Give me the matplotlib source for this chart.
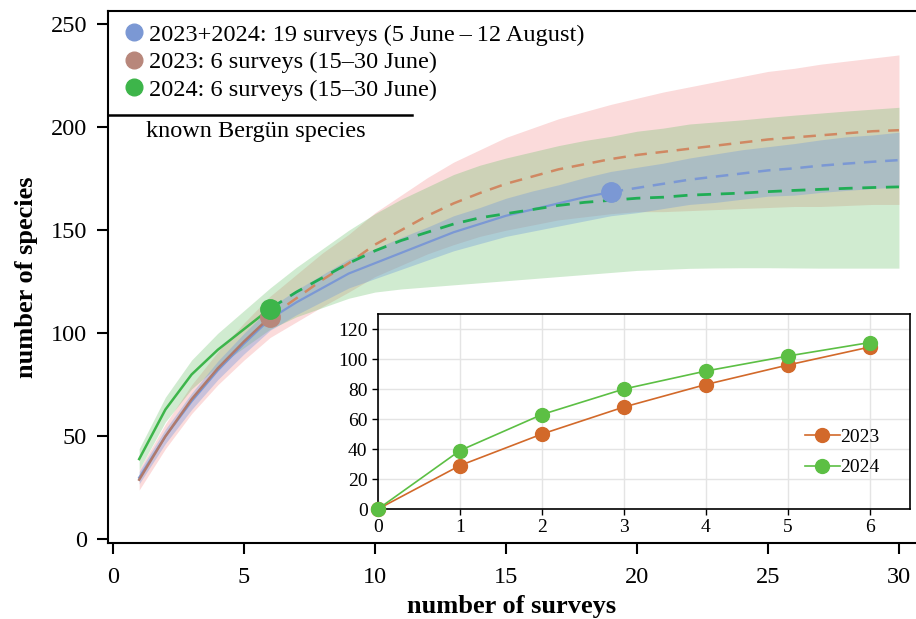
import matplotlib
matplotlib.use('Agg')
import matplotlib.pyplot as plt
from matplotlib.lines import Line2D

plt.rcParams['font.family'] = ['Liberation Serif', 'DejaVu Serif']

# number of surveys (rarefaction / extrapolation grid)
steps = list(range(1, 31))

# estimated species richness per number of surveys
both_est = [30, 50, 67, 82, 95, 107, 115, 122, 129, 134, 139, 144, 149, 153, 157,
            160, 163, 166, 168.5, 170.5, 172.5, 174.5, 176, 177.5, 179, 180, 181.3,
            182.3, 183.2, 184]
y2023_est = [29, 50, 68, 83, 96, 108, 117, 126, 134, 143, 150, 157, 163, 168, 172.5,
             176, 179.5, 182, 184.5, 186.5, 188, 189.5, 191, 192.5, 194, 195, 196,
             197, 198, 198.5]
y2024_est = [39, 63, 80, 92, 102, 112, 120, 127, 134, 140, 145, 149, 153, 156, 158,
             160, 162, 163.5, 164.5, 165.5, 166, 167, 167.5, 168, 168.7, 169.3, 169.8,
             170.3, 170.7, 171]

# distance of the 95% confidence limits below / above the estimate
both_lo = [3, 3.5, 4, 4.5, 5, 5.5, 6, 6.5, 7, 7.5, 8, 8.5, 9, 9.5, 10, 10.5, 11,
           11.5, 11.5, 12, 12, 12, 12.5, 12.5, 12.5, 13, 13, 13, 13, 13]
both_hi = [3, 3.5, 4, 4.5, 5, 5.5, 6, 6.5, 7, 7, 7.5, 7.5, 8, 8, 8.5, 9, 9, 9.5, 10,
           10, 10, 10.5, 11, 11.5, 11.5, 12, 12.5, 13, 13, 13.5]
y2023_lo = [5, 6, 7, 8, 9, 10, 11.5, 13, 14, 15.5, 17, 18.5, 20, 21, 22.5, 23.5, 24.5,
            25.5, 26.5, 27.5, 29, 30, 31, 32, 33, 33.5, 34.5, 35, 35.5, 36]
y2023_hi = [5, 6, 7, 8, 9, 10, 11.5, 13, 14, 15.5, 17, 18.5, 20, 21, 22.5, 23.5, 24.5,
            25.5, 26.5, 27.5, 29, 30, 31, 32, 33, 33.5, 34.5, 35, 35.5, 36.5]
y2024_lo = [5, 6, 7, 8, 9, 10, 12, 14.5, 17, 20, 23.5, 26.5, 29.5, 31.5, 32.5, 33.5,
            34.5, 35, 35, 35, 35, 35.5, 35.8, 36.2, 36.9, 37.6, 38.2, 38.7, 39.1, 39.4]
y2024_hi = [5, 6, 7, 8, 9, 10, 12, 14, 16, 18, 20, 22, 24, 25.5, 27, 28, 29, 30, 31,
            32.5, 33.5, 34.5, 35, 35.5, 36, 36.5, 37, 37.5, 38, 38.6]

n_both = 19
n_year = 6
known_species = 206

# observed cumulative species per survey (inset)
surveys = [0, 1, 2, 3, 4, 5, 6]
obs_2023 = [0, 29, 50, 68, 83, 96, 108]
obs_2024 = [0, 39, 63, 80, 92, 102, 111]

labels = ['2023+2024: 19 surveys (5 June\u2009\u2013\u200912 August)',
          '2023: 6 surveys (15\u201330 June)',
          '2024: 6 surveys (15\u201330 June)']

c_blue = '#7b98d4'
c_orange = '#d08862'
c_brown = '#b8877b'
c_green = '#3db54a'
c_green_d = '#20ad55'

fig = plt.figure(figsize=(9.16, 6.19), dpi=100)
ax = fig.add_axes([0.1179, 0.1228, 0.8821, 0.8594])

series = [
    (y2023_est, y2023_lo, y2023_hi, '#f06464', 0.23),
    (y2024_est, y2024_lo, y2024_hi, '#64be64', 0.30),
    (both_est, both_lo, both_hi, '#6e96dc', 0.35),
]
for est, wlo, whi, band, a in series:
    lo = [e - w for e, w in zip(est, wlo)]
    hi = [e + w for e, w in zip(est, whi)]
    ax.fill_between(steps, lo, hi, color=band, alpha=a, lw=0, zorder=1)

# solid (rarefied) and dashed (extrapolated) parts
dash = (0, (5, 3.5))
ax.plot(steps[:n_both], both_est[:n_both], color=c_blue, lw=1.6, zorder=3)
ax.plot(steps[n_both - 1:], both_est[n_both - 1:], color=c_blue, lw=1.8, ls=dash, zorder=3)
ax.plot(steps[:n_year], y2023_est[:n_year], color='#b07a6c', lw=1.8, zorder=4)
ax.plot(steps[n_year - 1:], y2023_est[n_year - 1:], color=c_orange, lw=1.8, ls=dash, zorder=3)
ax.plot(steps[:n_year], y2024_est[:n_year], color=c_green, lw=1.8, zorder=4)
ax.plot(steps[n_year - 1:], y2024_est[n_year - 1:], color=c_green_d, lw=2.0, ls=dash, zorder=3)

ax.plot(n_both, both_est[n_both - 1], 'o', ms=14, color=c_blue, zorder=5)
ax.plot(n_year, y2023_est[n_year - 1], 'o', ms=14, color=c_brown, zorder=5)
ax.plot(n_year, y2024_est[n_year - 1], 'o', ms=14, color=c_green, zorder=6)

# known species line
ax.plot([-0.19, 11.4], [known_species, known_species], color='black', lw=1.8,
        zorder=6, clip_on=False)
ax.text(1.27, known_species - 3, 'known Berg\u00fcn species', fontsize=17.5,
        va='top', ha='left')

handles = [Line2D([], [], marker='o', ls='', ms=12, color=c) for c in (c_blue, c_brown, c_green)]
ax.legend(handles, labels, loc='upper left', bbox_to_anchor=(-0.007, 1.008), frameon=False,
          fontsize=17.5, handletextpad=0.0, handlelength=1.2, labelspacing=0.22,
          borderaxespad=0.3)

ax.set_xlim(-0.19, 30.65)
ax.set_ylim(-1.7, 256.3)
ax.set_xticks([0, 5, 10, 15, 20, 25, 30])
ax.set_yticks([0, 50, 100, 150, 200, 250])
ax.spines['right'].set_visible(False)
for s in ('left', 'bottom', 'top'):
    ax.spines[s].set_linewidth(1.5)
ax.tick_params(labelsize=17.5, length=8, width=1.5, direction='out')
ax.tick_params(axis='x', pad=9)
ax.tick_params(axis='y', pad=7)
ax.set_xlabel('number of surveys', fontsize=19, fontweight='bold', labelpad=5)
ax.set_ylabel('number of species', fontsize=19, fontweight='bold', labelpad=9)

# inset with observed accumulation
ins = fig.add_axes([0.4127, 0.1777, 0.5808, 0.315])
ins.grid(True, color='#e4e4e4', lw=1.0, zorder=0)
ins.plot(surveys, obs_2023, '-o', color='#d2692a', lw=1.2, ms=10, label='2023',
         zorder=3, clip_on=False)
ins.plot(surveys, obs_2024, '-o', color='#5cbf44', lw=1.2, ms=10, label='2024',
         zorder=4, clip_on=False)
ins.set_xlim(0, 6.49)
ins.set_ylim(0, 130)
ins.set_xticks(surveys)
ins.set_yticks([0, 20, 40, 60, 80, 100, 120])
ins.set_axisbelow(True)
for s in ins.spines.values():
    s.set_linewidth(1.2)
ins.tick_params(labelsize=14, length=4, width=1.0)
ins.legend(loc='center right', bbox_to_anchor=(0.975, 0.29), frameon=False, fontsize=14,
           handlelength=1.8, handletextpad=0.0, labelspacing=0.65)

fig.savefig('out.png', dpi=100)
